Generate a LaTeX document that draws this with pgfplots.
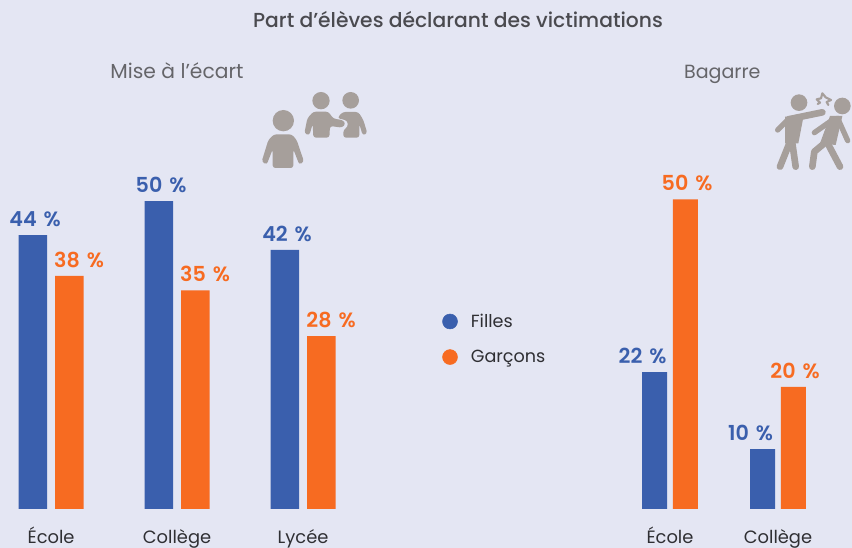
\documentclass[border=0pt]{standalone}
\usepackage{fontspec}
\setmainfont{Poppins}
\newfontfamily\med{Poppins Medium}
\newfontfamily\sem{Poppins SemiBold}
\usepackage{pgfplots}
\pgfplotsset{compat=1.18}
\definecolor{bg}{HTML}{E4E6F3}
\definecolor{cblue}{HTML}{3A5FAD}
\definecolor{corange}{HTML}{F76B21}
\definecolor{icon}{HTML}{A69F9B}
\definecolor{ttxt}{HTML}{4A4A4F}
\definecolor{ltxt}{HTML}{2F2F33}
\pgfplotsset{
  common/.style={
    scale only axis, anchor=south west, clip=false,
    ymin=0, ymax=55, height=254.5pt,
    axis line style={draw=none}, major tick length=0pt, ytick=\empty,
    xtick=data,
    xticklabel style={font=\fontsize{13.4}{16}\selectfont, text=ltxt, anchor=base, yshift=-26pt},
  },
  val/.style n args={2}{
    ybar, draw=none, fill=#1,
    nodes near coords={\pgfmathprintnumber[assume math mode=true, fixed, precision=0]{\pgfplotspointmeta}\,\,\%},
    nodes near coords style={font=\fontsize{15.5}{18}\selectfont\sem, text=#1, anchor=south, yshift=2.6pt, xshift=#2},
  },
}
\begin{document}
\begin{tikzpicture}
\useasboundingbox (0,0) rectangle (639pt,411pt);
\fill[bg] (0,0) rectangle (639pt,411pt);
\begin{axis}[common, at={(0.49pt,29.25pt)}, width=264.6pt, xmin=-0.4, xmax=2.4,
  xticklabels={École,Collège,Lycée},
  legend style={at={(axis cs:3.105,27.55)}, anchor=west, draw=none, fill=none,
    font=\fontsize{13.2}{16}\selectfont, text=ltxt, row sep=11.5pt, inner sep=0pt,
    /tikz/every odd column/.append style={column sep=8pt}},
  legend cell align=left]
\addplot[val={cblue}{-12pt}, bar width=21.4pt, bar shift=-13.7pt, forget plot] coordinates {(0,44.4) (1,49.9) (2,42.0)};
\addplot[val={corange}{21pt}, bar width=21.4pt, bar shift=13.7pt, forget plot] coordinates {(0,37.8) (1,35.45) (2,28.0)};
\addlegendimage{only marks, mark=*, mark size=5.6pt, mark options={draw=cblue, fill=cblue}}
\addlegendentry{Filles}
\addlegendimage{only marks, mark=*, mark size=5.6pt, mark options={draw=corange, fill=corange}}
\addlegendentry{Garçons}
\end{axis}
\begin{axis}[common, at={(470.1pt,29.25pt)}, width=145.8pt, xmin=-0.4, xmax=1.4,
  xticklabels={École,Collège}]
\addplot[val={cblue}{-20.6pt}, bar width=18.75pt, bar shift=-11.6pt] coordinates {(0,22.2) (1,9.7)};
\addplot[val={corange}{12.8pt}, bar width=18.75pt, bar shift=11.6pt] coordinates {(0,50.2) (1,19.8)};
\end{axis}
\node[font=\fontsize{15.2}{17}\selectfont\med, text=ttxt, anchor=base] at (343.5pt,390pt) {Part d’élèves déclarant des victimations};
\node[font=\fontsize{15.2}{17}\selectfont, text=ttxt!85, anchor=base] at (132.7pt,352pt) {Mise à l’écart};
\node[font=\fontsize{14.3}{17}\selectfont, text=ttxt!85, anchor=base] at (541.7pt,352pt) {Bagarre};
% icon: isolated child and pair
\begin{scope}[shift={(187.5pt,351pt)}, x=0.25pt, y=-0.25pt]
\fill[icon] (100,122) circle [radius=32];
\fill[icon, rounded corners=2pt] (72,163)--(125,163)--(140,180)--(162,245)--(148,254)--(130,208)--(130,264)--(68,264)--(68,208)--(50,254)--(35,245)--(55,180)--cycle;
\fill[icon] (213,62) circle [radius=26];
\fill[icon] (302,61) circle [radius=25];
\fill[icon, rounded corners=2pt] (278,96)--(325,96)--(340,120)--(352,160)--(338,166)--(328,132)--(328,173)--(280,173)--(280,150)--(294,140)--(292,122)--(262,114)--cycle;
\fill[icon, rounded corners=2pt] (190,95)--(235,95)--(250,116)--(278,120)--(287,131)--(277,143)--(240,138)--(238,173)--(190,173)--(188,132)--(178,166)--(163,160)--(172,115)--cycle;
\end{scope}
% icon: fight
\begin{scope}[shift={(573.75pt,351pt)}, x=0.25pt, y=-0.25pt, icon, line cap=round, line join=round]
\fill (102,68) circle [radius=25];
\fill (232,78) circle [radius=25];
\draw[line width=5pt] (70,118)--(172,97);
\draw[line width=4pt] (70,118)--(38,150);
\fill (60,110)--(115,112)--(100,190)--(60,190)--cycle;
\draw[line width=5pt] (75,185)--(45,260);
\draw[line width=5pt] (82,190)--(92,260);
\fill (195,108)--(232,108)--(212,195)--(165,190)--cycle;
\draw[line width=4pt] (195,125)--(148,158);
\draw[line width=4pt] (218,115)--(248,182);
\draw[line width=5pt] (178,190)--(148,215)--(142,260);
\draw[line width=5pt] (188,190)--(225,260);
\draw[line width=1.6pt] (155,58)--(168,55)--(172,40)--(182,52)--(198,60)--(185,66)--(190,75) (158,72)--(165,68)--(155,58);
\end{scope}
\end{tikzpicture}
\end{document}
